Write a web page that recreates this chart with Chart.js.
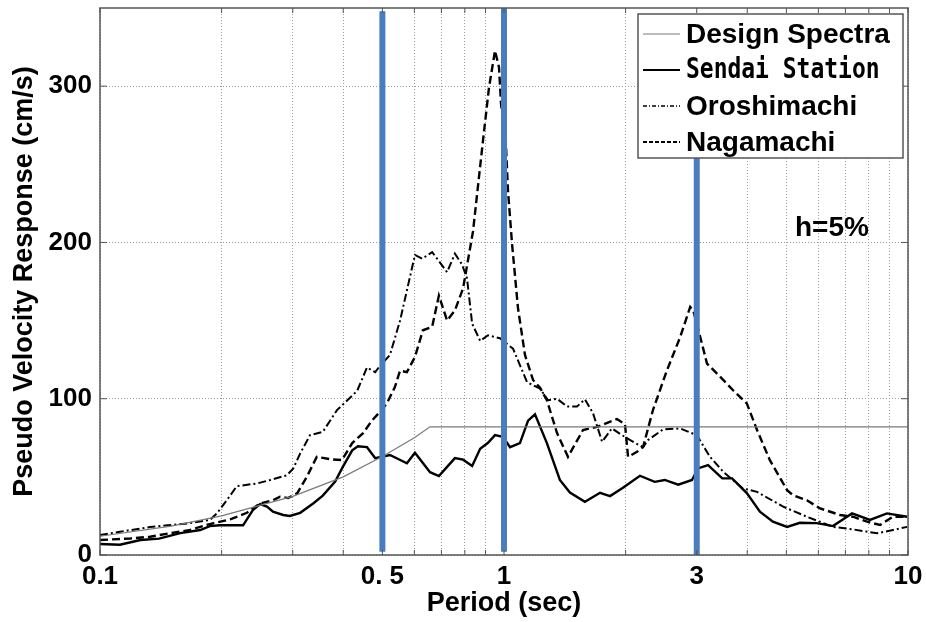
<!DOCTYPE html>
<html>
<head>
<meta charset="utf-8">
<script src="https://cdn.jsdelivr.net/npm/chart.js@4"></script>
<style>
html, body { margin: 0; padding: 0; background: #fff; }
#wrap { width: 926px; height: 622px; }
</style>
</head>
<body>
<div id="wrap"><canvas id="chart"></canvas></div>
<script>
// periods (sec) and pseudo velocity (cm/s)
const designT = [0.1, 0.15, 0.2, 0.3, 0.4, 0.5, 0.6, 0.656, 10];
const designV = [12, 18.5, 25, 37.5, 50, 63, 75, 82, 82];

const sendaiT = [0.1, 0.112, 0.126, 0.14, 0.158, 0.177, 0.187, 0.198, 0.213, 0.226, 0.239, 0.249, 0.259, 0.268, 0.284, 0.295,
  0.313, 0.337, 0.356, 0.382, 0.399, 0.421, 0.435, 0.458, 0.48, 0.522, 0.575, 0.602, 0.656, 0.69, 0.723, 0.756, 0.792,
  0.834, 0.873, 0.913, 0.95, 0.994, 1.035, 1.095, 1.147, 1.193, 1.277, 1.375, 1.456, 1.586, 1.729, 1.83, 1.97, 2.17,
  2.36, 2.5, 2.7, 2.92, 3.02, 3.2, 3.47, 3.67, 3.99, 4.3, 4.63, 5.02, 5.4, 5.95, 6.52, 7.27, 8.05, 8.87, 9.95];
const sendaiV = [7, 6.6, 9.6, 10.5, 14, 16, 18.5, 19, 19, 19, 28.8, 32.6, 31, 27.7, 25.6, 25,
  27, 33, 38, 47, 56.4, 67, 69.6, 69, 62, 64, 58.7, 65.4, 53, 50.5, 56.4, 62, 61,
  57, 68, 71.8, 76.7, 75.6, 69, 71.6, 86, 90, 71.6, 48, 40, 34, 39.8, 37.7, 43, 50.7,
  46.8, 48, 45, 48, 55.4, 57.5, 49, 49, 39.6, 27.7, 21.3, 18, 20.6, 20.4, 18.5, 26.6, 22.4, 26.6, 24.5];

const oroT = [0.1, 0.112, 0.133, 0.147, 0.167, 0.187, 0.195, 0.209, 0.218, 0.245, 0.264, 0.29, 0.301, 0.313, 0.331, 0.356,
  0.386, 0.433, 0.458, 0.48, 0.493, 0.522, 0.553, 0.602, 0.627, 0.664, 0.723, 0.756, 0.787, 0.81, 0.834, 0.873, 0.913,
  0.977, 1.053, 1.14, 1.18, 1.228, 1.285, 1.353, 1.432, 1.516, 1.586, 1.661, 1.749, 1.85, 1.95, 2.1, 2.21, 2.27, 2.475,
  2.73, 3.0, 3.235, 3.49, 3.9, 4.23, 4.91, 5.62, 6.52, 7.31, 8.38, 9.18, 9.95];
const oroV = [12.8, 14.9, 17.9, 19, 20.4, 22.4, 26.8, 37.3, 44, 45.8, 48, 51, 55.4, 65, 76.7, 78.8,
  92.7, 105, 120, 117, 121, 128, 150, 192, 189.6, 193.8, 181, 192.8, 186, 177, 148, 137, 140.6,
  138.7, 132, 110.7, 108.6, 106.5, 99, 100, 95, 95, 99.6, 90.7, 72.4, 81, 77, 72, 69, 73.5, 80.3,
  81, 76.7, 62.8, 53.2, 42.6, 40.4, 30.9, 24.5, 18, 16.4, 13.9, 16, 18];

const nagaT = [0.1, 0.119, 0.133, 0.149, 0.167, 0.187, 0.21, 0.231, 0.249, 0.268, 0.279, 0.292, 0.308, 0.325, 0.344, 0.371,
  0.397, 0.421, 0.448, 0.471, 0.493, 0.513, 0.537, 0.553, 0.575, 0.602, 0.63, 0.664, 0.69, 0.723, 0.756, 0.792, 0.838,
  0.887, 0.918, 0.95, 0.972, 0.983, 1.011, 1.023, 1.047, 1.083, 1.127, 1.18, 1.228, 1.277, 1.353, 1.44, 1.569, 1.7,
  1.904, 1.993, 2.028, 2.134, 2.21, 2.337, 2.53, 2.73, 2.89, 2.94, 3.06, 3.18, 3.43, 3.69, 3.99, 4.23, 4.55, 5.02,
  5.19, 5.62, 6.06, 6.79, 7.31, 7.92, 8.53, 9.18, 9.95];
const nagaV = [9.6, 10.6, 11.7, 13.9, 16, 19.8, 22.8, 27, 33, 35, 37.3, 36.4, 39.6, 50, 62.8, 61.3,
  60.7, 71.6, 78, 86, 91.6, 97, 107.5, 118, 117, 126.7, 143.8, 146, 166, 150, 156.5, 170.6, 207,
  265, 299, 322.7, 312, 289, 263, 233, 199, 158, 128, 112, 107, 99, 78, 62.8, 80, 82,
  87, 83.7, 62.8, 66, 69.2, 92.7, 118, 139.5, 158.7, 156.5, 139.5, 122.5, 114, 105.4, 97, 80, 60.7, 41.5,
  38.3, 35, 29.8, 25.6, 24.5, 21.3, 19.2, 24.5, 24.5];

// blue reference lines
const markerT = [0.5, 1, 3];
const markerBottom = [2, 2, 0];
const markerTop = [348, 350, 254];

// axes
const gridT = [0.1, 0.2, 0.3, 0.4, 0.5, 0.6, 0.7, 0.8, 0.9, 1, 2, 3, 4, 5, 6, 7, 8, 9, 10];
const xLabelValues = [0.1, 0.5, 1, 3, 10];
const xLabelTexts = ["0.1", "0. 5", "1", "3", "10"];
const yTicks = [0, 100, 200, 300];

const legendLabels = ["Design Spectra", "Sendai Station", "Oroshimachi", "Nagamachi"];

const pts = (xs, ys) => xs.map((x, i) => ({ x: x, y: ys[i] }));
const boldFont = "Liberation Sans, Arial, sans-serif";

const series = [
  { label: legendLabels[0], data: pts(designT, designV), borderColor: "#7a7a7a", borderWidth: 1.2, borderDash: [] },
  { label: legendLabels[1], data: pts(sendaiT, sendaiV), borderColor: "#000", borderWidth: 2.4, borderDash: [] },
  { label: legendLabels[2], data: pts(oroT, oroV), borderColor: "#000", borderWidth: 2, borderDash: [8, 3, 2, 3] },
  { label: legendLabels[3], data: pts(nagaT, nagaV), borderColor: "#000", borderWidth: 2.4, borderDash: [8, 4] }
];
series.forEach(s => { s.order = 2; s.fill = false; });

const markers = markerT.map((t, i) => ({
  label: "marker" + i,
  data: [{ x: t, y: markerBottom[i] }, { x: t, y: markerTop[i] }],
  borderColor: "#4a7dbd",
  borderWidth: 6,
  order: 1,
  fill: false
}));

// keep the plot box where the original has it
const noPad = s => { s.paddingTop = 0; s.paddingBottom = 0; s.paddingLeft = 0; s.paddingRight = 0; };

// frame, inner ticks, legend box and note
const framePlugin = {
  id: "frame",
  afterDraw(chart) {
    const { ctx, chartArea: a, scales } = chart;
    ctx.save();
    ctx.strokeStyle = "#555";
    ctx.lineWidth = 1.5;
    ctx.strokeRect(a.left, a.top, a.right - a.left, a.bottom - a.top);

    ctx.lineWidth = 1;
    ctx.beginPath();
    gridT.forEach(t => {
      const x = scales.x.getPixelForValue(t);
      ctx.moveTo(x, a.top); ctx.lineTo(x, a.top + 5);
      ctx.moveTo(x, a.bottom); ctx.lineTo(x, a.bottom - 5);
    });
    yTicks.forEach(v => {
      const y = scales.y.getPixelForValue(v);
      ctx.moveTo(a.left, y); ctx.lineTo(a.left + 7, y);
      ctx.moveTo(a.right, y); ctx.lineTo(a.right - 7, y);
    });
    ctx.stroke();

    // legend
    const bx = a.right - 270, by = a.top + 6, bw = 265, bh = 144;
    ctx.fillStyle = "#fff";
    ctx.fillRect(bx, by, bw, bh);
    ctx.strokeStyle = "#555";
    ctx.lineWidth = 1.5;
    ctx.strokeRect(bx, by, bw, bh);
    series.forEach((s, i) => {
      const y = by + 20 + i * 36;
      ctx.save();
      ctx.strokeStyle = s.borderColor;
      ctx.lineWidth = i === 0 ? 1 : (i === 2 ? 1.4 : 1.8);
      ctx.setLineDash(i === 2 ? [4, 2, 1, 2] : (i === 3 ? [4, 2] : []));
      ctx.beginPath();
      ctx.moveTo(bx + 5, y); ctx.lineTo(bx + 42, y);
      ctx.stroke();
      ctx.restore();
      ctx.fillStyle = "#000";
      ctx.textBaseline = "middle";
      ctx.textAlign = "left";
      if (i === 1) {
        // narrow monospaced face, like the original
        ctx.save();
        ctx.translate(bx + 48, y + 1);
        ctx.scale(0.82, 1);
        ctx.font = "bold 28px 'DejaVu Sans Mono'";
        ctx.fillText(s.label, 0, 0);
        ctx.restore();
      } else {
        ctx.font = "bold 28px " + boldFont;
        ctx.fillText(s.label, bx + 48, y + 1);
      }
    });

    ctx.fillStyle = "#000";
    ctx.font = "bold 28px " + boldFont;
    ctx.textAlign = "left";
    ctx.textBaseline = "middle";
    ctx.fillText("h=5%", scales.x.getPixelForValue(5.25), scales.y.getPixelForValue(209));
    ctx.restore();
  }
};

new Chart(document.getElementById("chart"), {
  type: "line",
  data: { datasets: markers.concat(series) },
  options: {
    responsive: true,
    maintainAspectRatio: false,
    animation: false,
    layout: { padding: { top: 8, right: 18, left: 0, bottom: 0 } },
    elements: { point: { radius: 0 }, line: { tension: 0 } },
    plugins: { legend: { display: false }, tooltip: { enabled: false } },
    scales: {
      x: {
        type: "logarithmic",
        min: 0.1,
        max: 10,
        afterBuildTicks: s => { s.ticks = gridT.map(v => ({ value: v })); },
        afterFit: s => { s.height = 67; noPad(s); },
        ticks: {
          autoSkip: false,
          maxRotation: 0,
          padding: 6,
          color: "#000",
          font: { family: boldFont, weight: "bold", size: 26 },
          callback: v => {
            const i = xLabelValues.findIndex(t => Math.abs(t - v) < 1e-6);
            return i >= 0 ? xLabelTexts[i] : "";
          }
        },
        grid: { color: "#9a9a9a", lineWidth: 1, drawTicks: false },
        border: { display: false, dash: [1, 2] },
        title: {
          display: true,
          text: "Period (sec)",
          color: "#000",
          font: { family: boldFont, weight: "bold", size: 27 },
          padding: { top: 0, bottom: 2 }
        }
      },
      y: {
        type: "linear",
        min: 0,
        max: 350,
        afterBuildTicks: s => { s.ticks = yTicks.map(v => ({ value: v })); },
        afterFit: s => { s.width = 100; noPad(s); },
        ticks: {
          padding: 8,
          color: "#000",
          font: { family: boldFont, weight: "bold", size: 26 }
        },
        grid: { color: "#9a9a9a", lineWidth: 1, drawTicks: false },
        border: { display: false, dash: [1, 2] },
        title: {
          display: true,
          text: "Pseudo Velocity Response (cm/s)",
          color: "#000",
          font: { family: boldFont, weight: "bold", size: 27 },
          padding: { top: 8, bottom: 0 }
        }
      }
    }
  },
  plugins: [framePlugin]
});
</script>
</body>
</html>
